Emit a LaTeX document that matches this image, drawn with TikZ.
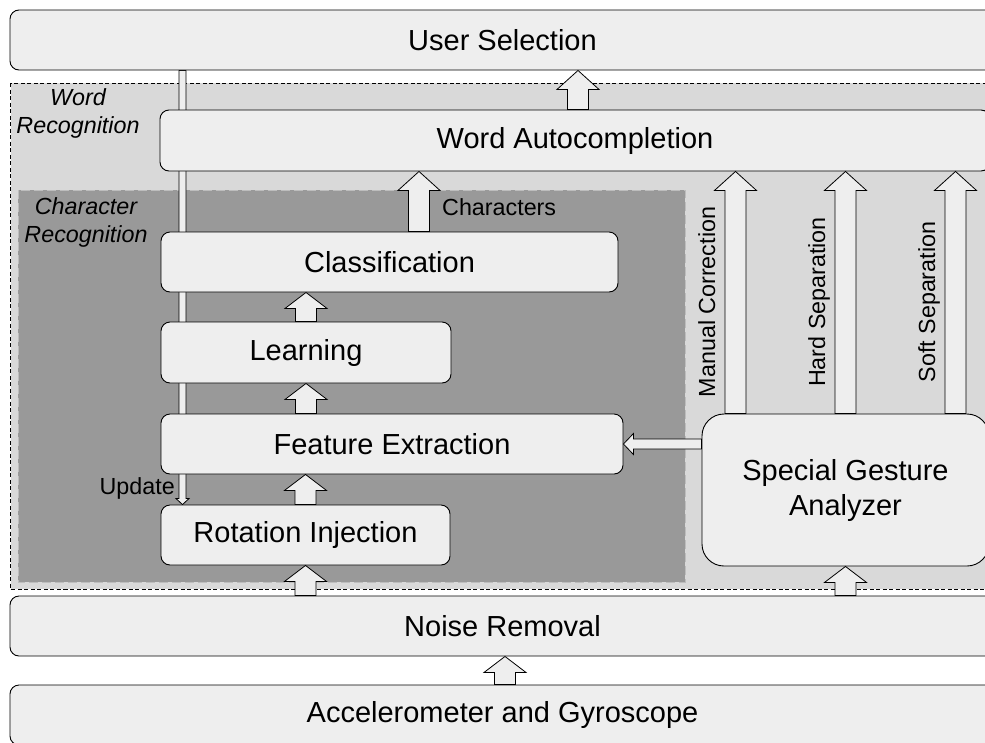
\documentclass[tikz,border=0pt]{standalone}
\usepackage{fontspec}
\setmainfont{Liberation Sans}
\usetikzlibrary{calc}
\definecolor{boxfill}{HTML}{EEEEEE}
\definecolor{wordfill}{HTML}{D9D9D9}
\definecolor{charfill}{HTML}{999999}
\definecolor{charline}{HTML}{BDBDBD}
\pgfdeclarelayer{background}
\pgfsetlayers{background,main}
\tikzset{
  box/.style={draw=black, fill=boxfill, line width=0.9pt, rounded corners=9pt, inner sep=0pt,
    font=\fontsize{29}{35}\selectfont, align=center},
  tag/.style={inner sep=0pt, font=\fontsize{23.3}{28}\selectfont},
  itag/.style={inner sep=0pt, font=\fontsize{23.3}{28}\selectfont\itshape, align=center},
  blockarrow/.style n args={3}{draw=black, fill=boxfill, line width=0.8pt,
    to path={let \p1=(\tikztostart), \p2=(\tikztotarget), \p3=($(\p2)!#3!(\p1)$) in
      ($(\p1)!#1!90:(\p2)$) -- ($(\p3)!#1!90:(\p2)$) -- ($(\p3)!#2!90:(\p2)$) -- (\p2)
      -- ($(\p3)!#2!-90:(\p2)$) -- ($(\p3)!#1!-90:(\p2)$) -- ($(\p1)!#1!-90:(\p2)$) -- cycle}},
  bigarrow/.style={blockarrow={10.5pt}{21pt}{19pt}},
  midarrow/.style={blockarrow={10.5pt}{21pt}{16pt}},
}
\begin{document}
\begin{tikzpicture}[x=1pt,y=-1pt]
\useasboundingbox (0,0) rectangle (985,742);
\clip (0,0) rectangle (985,742);

% blocks
\node[box, minimum width=985, minimum height=60] (usel) at (502.5,40) {User Selection};
\node[box, minimum width=830, minimum height=61] (wac) at (575,140.5) {Word Autocompletion};
\node[box, minimum width=457, minimum height=60] (cls) at (389.5,262) {Classification};
\node[box, minimum width=290, minimum height=61] (lrn) at (306,352.5) {Learning};
\node[box, minimum width=462, minimum height=60] (fe) at (392,444) {Feature Extraction};
\node[box, minimum width=289, minimum height=60] (rot) at (305.5,535) {Rotation Injection};
\node[box, rounded corners=22pt, minimum width=287, minimum height=152] (sga) at (845.5,490) {Special Gesture\\Analyzer};
\node[box, minimum width=985, minimum height=60] (noise) at (502.5,626) {Noise Removal};
\node[box, minimum width=985, minimum height=60] (acc) at (502.5,715) {Accelerometer and Gyroscope};

% regions and the update line behind the blocks
\begin{pgfonlayer}{background}
\draw[fill=wordfill, dash pattern=on 4pt off 2.5pt, line width=0.7pt] (10.5,83) rectangle (1000,589);
\draw[fill=charfill, draw=charline, dash pattern=on 9pt off 4pt, line width=1pt] (18,190) rectangle (685,582);
\coordinate (upd) at ([xshift=-123]rot.north);
\draw[blockarrow={3.5pt}{6.5pt}{6pt}] (upd |- usel.south) to (upd);
\end{pgfonlayer}

% labels
\node[itag] (wrlbl) at (78,113) {Word\\Recognition};
\node[itag] (crlbl) at (86,222.5) {Character\\Recognition};
\node[tag, anchor=west] (chlbl) at (442,207) {Characters};
\node[tag, anchor=east] (uplbl) at (175,488) {Update};
\node[tag, rotate=90, anchor=base] (mclbl) at (715,302) {Manual Correction};
\node[tag, rotate=90, anchor=base] (hslbl) at (825,302) {Hard Separation};
\node[tag, rotate=90, anchor=base] (sslbl) at (935,302) {Soft Separation};

% block arrows
\draw[midarrow] ([xshift=2.5]acc.north) to ([xshift=2.5]noise.south);
\draw[midarrow] (rot.south |- noise.north) to (rot.south);
\draw[midarrow] (sga.south |- noise.north) to (sga.south);
\draw[midarrow] (rot.north) to (rot.north |- fe.south);
\draw[midarrow] (lrn.south |- fe.north) to (lrn.south);
\draw[midarrow] (lrn.north) to (lrn.north |- cls.south);
\draw[bigarrow] ([xshift=29.5]cls.north) to ([xshift=29.5]cls.north |- wac.south);
\draw[bigarrow] ([xshift=3]wac.north) to ([xshift=3]wac.north |- usel.south);
\draw[bigarrow] ([xshift=-110]sga.north) to ([xshift=-110]sga.north |- wac.south);
\draw[bigarrow] (sga.north) to (sga.north |- wac.south);
\draw[bigarrow] ([xshift=110]sga.north) to ([xshift=110]sga.north |- wac.south);
\draw[blockarrow={5pt}{10.5pt}{10pt}] (sga.west |- fe.east) to (fe.east);
\end{tikzpicture}
\end{document}
